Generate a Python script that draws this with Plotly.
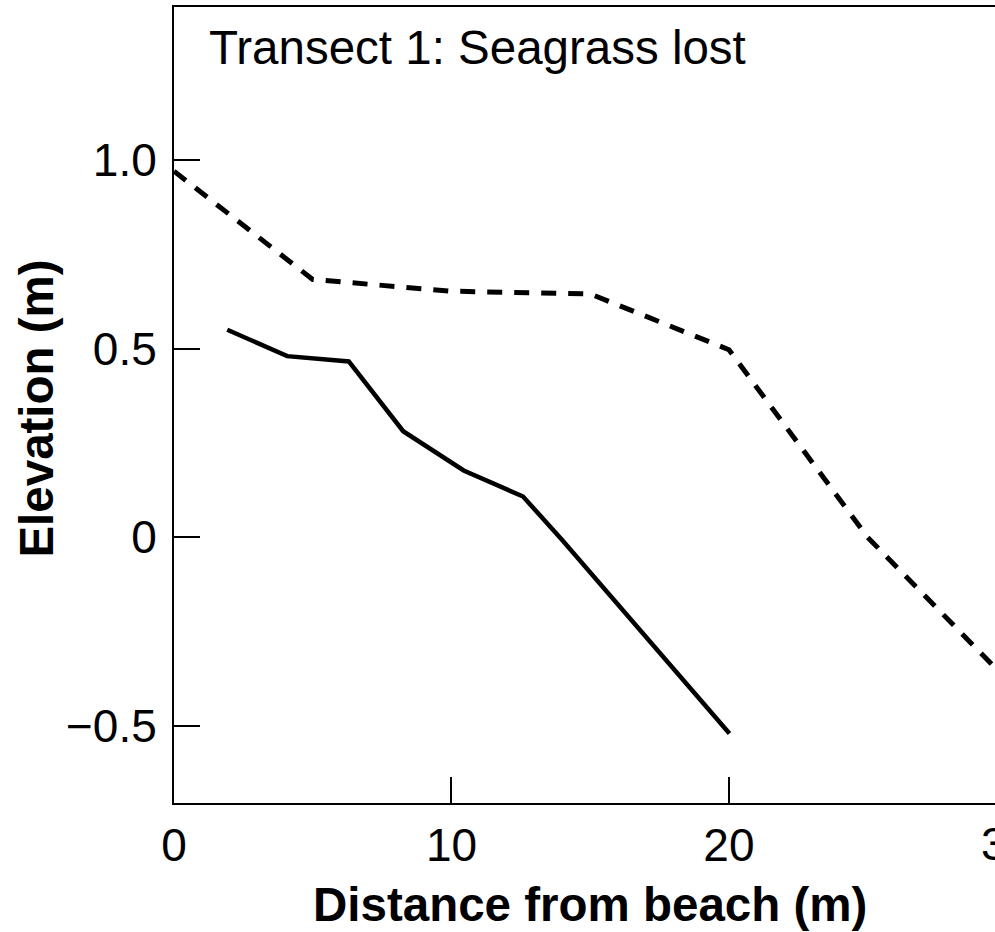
import plotly.graph_objects as go

# Data
seagrass_lost_x = [0, 5, 10, 15, 20, 25, 30]
seagrass_lost_y = [0.97, 0.683, 0.652, 0.645, 0.497, 0.0, -0.376]

current_x = [1.92, 4.08, 6.30, 8.26, 10.44, 12.58, 13.99, 20.02]
current_y = [0.550, 0.480, 0.466, 0.281, 0.177, 0.108, -0.007, -0.52]

x_tickvals = [0, 10, 20, 30]
x_ticktext = ["0", "10", "20", "30"]
y_tickvals = [-0.5, 0, 0.5, 1.0]
y_ticktext = ["\u22120.5", "0", "0.5", "1.0"]

title_text = "Transect 1: Seagrass lost"
x_title = "Distance from beach (m)"
y_title = "Elevation (m)"

FONT = "Liberation Sans, Arial, Helvetica, sans-serif"
X_MAX = 29.59
Y_RANGE = [-0.704, 1.405]

fig = go.Figure()
fig.add_trace(go.Scatter(
    x=seagrass_lost_x, y=seagrass_lost_y, mode="lines",
    line=dict(color="black", width=5, dash="15px,12px"),
    showlegend=False, hoverinfo="skip",
))
fig.add_trace(go.Scatter(
    x=current_x, y=current_y, mode="lines",
    line=dict(color="black", width=4.5),
    showlegend=False, hoverinfo="skip",
))

fig.update_layout(
    width=995, height=932,
    margin=dict(l=174, r=0, t=7, b=129, autoexpand=False),
    paper_bgcolor="white", plot_bgcolor="white",
    font=dict(family=FONT, size=46, color="black"),
    showlegend=False,
)

fig.update_xaxes(
    range=[0, X_MAX], tickmode="array", tickvals=x_tickvals, ticktext=x_ticktext,
    ticks="inside", ticklen=26, tickwidth=1.5, tickcolor="black",
    showline=True, linecolor="black", linewidth=2, mirror=True,
    showgrid=False, zeroline=False,
    tickfont=dict(family=FONT, size=46, color="black"),
    ticklabelstandoff=1,
    automargin=False,
)
fig.update_yaxes(
    range=Y_RANGE, tickmode="array", tickvals=y_tickvals, ticktext=y_ticktext,
    ticks="inside", ticklen=26, tickwidth=1.5, tickcolor="black",
    showline=True, linecolor="black", linewidth=2, mirror=False,
    showgrid=False, zeroline=False,
    tickfont=dict(family=FONT, size=46, color="black"),
    ticklabelstandoff=6,
    automargin=False,
)

# title inside the plot area
fig.add_annotation(
    text=title_text, xref="paper", yref="paper", x=0.04, y=0.9855,
    xanchor="left", yanchor="top", showarrow=False,
    font=dict(family=FONT, size=47.5, color="black"),
)

# axis titles
fig.add_annotation(
    text="<b>" + x_title + "</b>", xref="paper", yref="paper", x=0.507, y=-0.1269,
    xanchor="center", yanchor="middle", showarrow=False,
    font=dict(family=FONT, size=47.5, color="black"),
)
fig.add_annotation(
    text="<b>" + y_title + "</b>", xref="paper", yref="paper", x=-0.168, y=0.4956,
    xanchor="center", yanchor="middle", showarrow=False, textangle=-90,
    font=dict(family=FONT, size=47.5, color="black"),
)

# tick label at 30 lies just past the visible edge (partly cut off, as in the reference)
fig.add_annotation(
    text=x_ticktext[-1], xref="paper", yref="paper", x=x_tickvals[-1] / X_MAX, y=0,
    xanchor="center", yanchor="top", yshift=-13, showarrow=False,
    font=dict(family=FONT, size=46, color="black"),
)

fig.write_html("out.html")
